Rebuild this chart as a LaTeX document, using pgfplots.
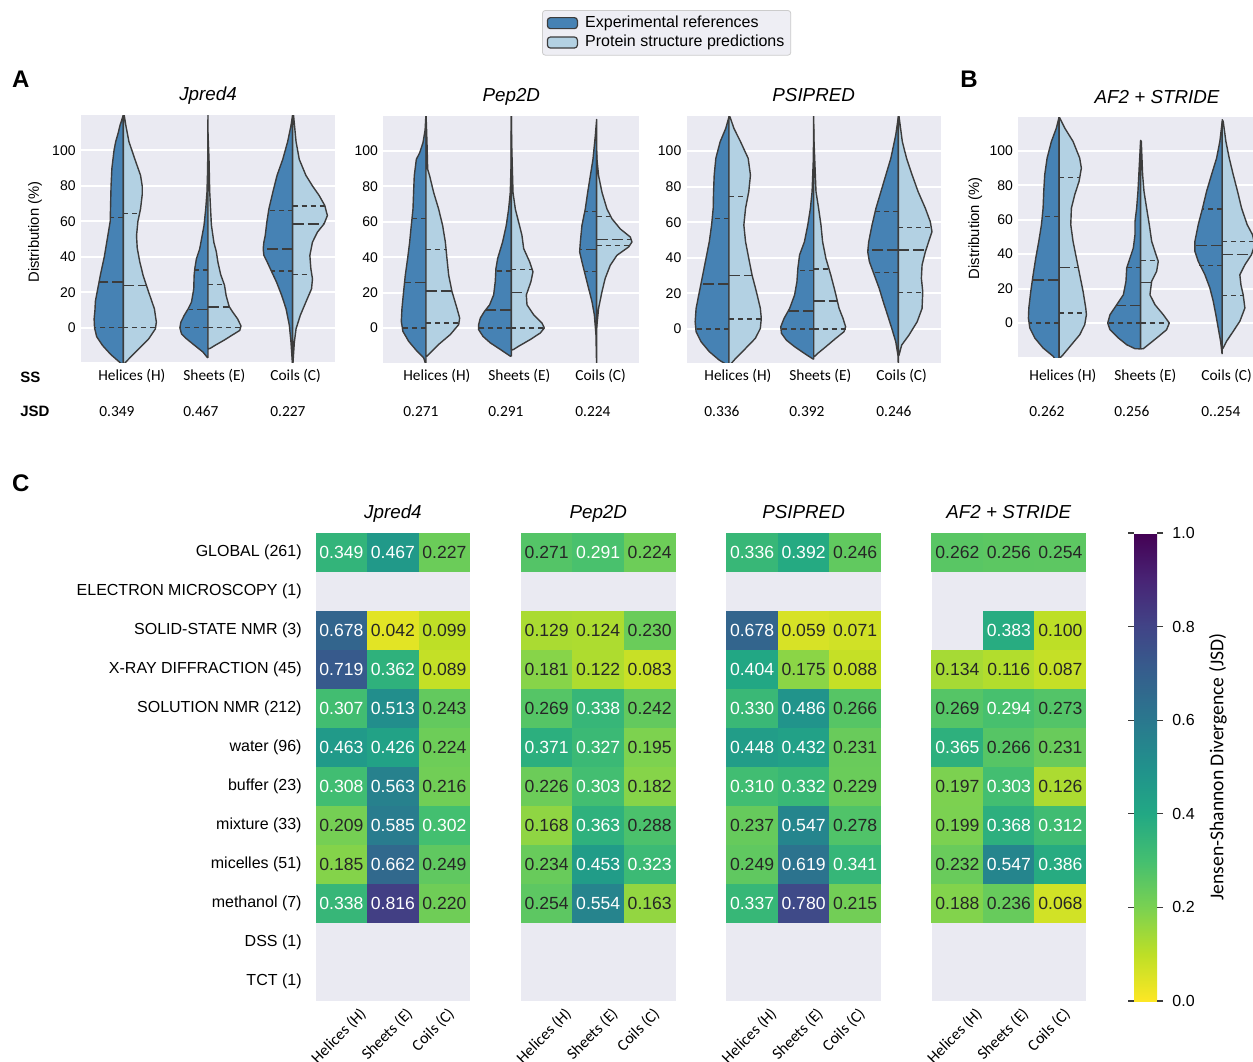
\documentclass[border=0pt]{standalone}
\usepackage{fontspec}
\setmainfont{Liberation Sans}
\newfontfamily\calib{Carlito}
\usepackage{pgfplots}
\pgfplotsset{compat=1.18}
\usepackage{pgfplotstable}
\definecolor{bg}{RGB}{234,234,242}
\definecolor{dkb}{RGB}{70,130,180}
\definecolor{ltb}{RGB}{179,209,227}
\definecolor{edge}{RGB}{60,60,60}
\definecolor{txtw}{RGB}{255,255,255}
\definecolor{txtb}{RGB}{38,38,38}
\definecolor{lgfill}{RGB}{238,238,244}
\definecolor{lgedge}{RGB}{204,204,204}
\pgfdeclareplotmark{cell}{\pgfpathrectangle{\pgfpoint{-12.95pt}{-9.85pt}}{\pgfpoint{25.9pt}{19.7pt}}\pgfusepathqfill}
\pgfplotsset{
  /pgf/number format/assume math mode=true,
  colormap={vir}{rgb255=(253,231,37) rgb255=(189,223,38) rgb255=(122,209,81) rgb255=(68,191,112) rgb255=(34,168,132) rgb255=(33,145,140) rgb255=(42,120,142) rgb255=(53,95,141) rgb255=(65,68,135) rgb255=(72,36,117) rgb255=(68,1,84)},
  vio/.style={scale only axis, anchor=north west, xmin=-0.5, xmax=2.5, xtick=\empty,
    ytick={0,20,40,60,80,100}, ymajorgrids, grid style={white, line width=1pt},
    axis background/.style={fill=bg}, axis line style={draw=none}, major tick length=0pt,
    yticklabel style={font=\fontsize{7}{8}\selectfont, inner sep=0pt, xshift=-2.5pt},
    every axis title/.style={at={(0.5,1)}, anchor=base, yshift=7.5pt, inner sep=0pt, font=\itshape\fontsize{9.4}{11}\selectfont}},
  dk/.style={fill=dkb, draw=edge, line width=0.7pt, line join=round},
  lt/.style={fill=ltb, draw=edge, line width=0.7pt, line join=round},
  med/.style={quiver={u=\thisrow{u},v=0}, draw=edge, line width=0.75pt, dash pattern=on 5.5pt off 2pt, no markers},
  qrt/.style={quiver={u=\thisrow{u},v=0}, draw=edge, line width=0.7pt, dash pattern=on 2.5pt off 2pt, no markers},
  hm/.style={scale only axis, anchor=north west, width=77.25pt, height=234pt,
    xmin=-0.5, xmax=2.5, ymin=-11.5, ymax=0.5,
    axis background/.style={fill=bg}, axis line style={draw=none}, major tick length=0pt,
    xtick={0.233,1.136,1.948}, xticklabels={Helices (H),Sheets (E),Coils (C)},
    xticklabel style={rotate=45, anchor=north east, inner sep=0pt, font=\calib\fontsize{8}{9.5}\selectfont, yshift=-3.6pt},
    ytick=\empty, colormap name=vir, point meta min=0, point meta max=1,
    every axis title/.style={at={(0.5,1)}, anchor=base, yshift=7.5pt, inner sep=0pt, font=\itshape\fontsize{9.4}{11}\selectfont}},
  cellplot/.style={scatter, only marks, mark=cell, point meta=\thisrow{v}},
  labplot/.style={draw=none, no markers, point meta=\thisrow{v},
    visualization depends on={\thisrow{tc}\as\tcol},
    nodes near coords={\ifdim\tcol pt>0.5pt\color{txtw}\else\color{txtb}\fi\pgfmathprintnumber[fixed,fixed zerofill,precision=3]{\pgfplotspointmeta}},
    every node near coord/.append style={anchor=center, inner sep=0pt, font=\fontsize{8.8}{10}\selectfont}},
}
% ---------------- heatmap data (row index as negative y; tc: 1 = white text) ----------------
\pgfplotstableread{
x y v tc
0 0 0.349 1
1 0 0.467 1
2 0 0.227 0
0 -2 0.678 1
1 -2 0.042 0
2 -2 0.099 0
0 -3 0.719 1
1 -3 0.362 1
2 -3 0.089 0
0 -4 0.307 1
1 -4 0.513 1
2 -4 0.243 0
0 -5 0.463 1
1 -5 0.426 1
2 -5 0.224 0
0 -6 0.308 1
1 -6 0.563 1
2 -6 0.216 0
0 -7 0.209 0
1 -7 0.585 1
2 -7 0.302 1
0 -8 0.185 0
1 -8 0.662 1
2 -8 0.249 0
0 -9 0.338 1
1 -9 0.816 1
2 -9 0.220 0
}\hJ
\pgfplotstableread{
x y v tc
0 0 0.271 0
1 0 0.291 1
2 0 0.224 0
0 -2 0.129 0
1 -2 0.124 0
2 -2 0.230 0
0 -3 0.181 0
1 -3 0.122 0
2 -3 0.083 0
0 -4 0.269 0
1 -4 0.338 1
2 -4 0.242 0
0 -5 0.371 1
1 -5 0.327 1
2 -5 0.195 0
0 -6 0.226 0
1 -6 0.303 1
2 -6 0.182 0
0 -7 0.168 0
1 -7 0.363 1
2 -7 0.288 0
0 -8 0.234 0
1 -8 0.453 1
2 -8 0.323 1
0 -9 0.254 0
1 -9 0.554 1
2 -9 0.163 0
}\hP
\pgfplotstableread{
x y v tc
0 0 0.336 1
1 0 0.392 1
2 0 0.246 0
0 -2 0.678 1
1 -2 0.059 0
2 -2 0.071 0
0 -3 0.404 1
1 -3 0.175 0
2 -3 0.088 0
0 -4 0.330 1
1 -4 0.486 1
2 -4 0.266 0
0 -5 0.448 1
1 -5 0.432 1
2 -5 0.231 0
0 -6 0.310 1
1 -6 0.332 1
2 -6 0.229 0
0 -7 0.237 0
1 -7 0.547 1
2 -7 0.278 0
0 -8 0.249 0
1 -8 0.619 1
2 -8 0.341 1
0 -9 0.337 1
1 -9 0.780 1
2 -9 0.215 0
}\hS
\pgfplotstableread{
x y v tc
0 0 0.262 0
1 0 0.256 0
2 0 0.254 0
1 -2 0.383 1
2 -2 0.100 0
0 -3 0.134 0
1 -3 0.116 0
2 -3 0.087 0
0 -4 0.269 0
1 -4 0.294 1
2 -4 0.273 0
0 -5 0.365 1
1 -5 0.266 0
2 -5 0.231 0
0 -6 0.197 0
1 -6 0.303 1
2 -6 0.126 0
0 -7 0.199 0
1 -7 0.368 1
2 -7 0.312 1
0 -8 0.232 0
1 -8 0.547 1
2 -8 0.386 1
0 -9 0.188 0
1 -9 0.236 0
2 -9 0.068 0
}\hA
\begin{document}
\begin{tikzpicture}
\clip (0pt,0pt) rectangle (626.5pt,-530.5pt);
\fill[white] (0pt,0pt) rectangle (626.5pt,-530.5pt);
% ================= Jpred4 violins =================
\begin{axis}[vio, at={(40.5pt,-57.5pt)}, width=127pt, height=123.5pt, ymin=-19.3, ymax=120,
  title={Jpred4},
  every axis y label/.style={at={(axis description cs:-0.181,0.526)}, rotate=90, anchor=center, font=\fontsize{7.4}{8.5}\selectfont},
  ylabel={Distribution (\%)},
  legend style={at={(1.815,1.425)}, anchor=north west, draw=lgedge, fill=lgfill, rounded corners=1.5pt,
    font=\fontsize{8}{9.5}\selectfont, inner xsep=2.2pt, inner ysep=1.5pt,
    nodes={inner sep=1pt, text height=6pt, text depth=1.7pt},
    /tikz/every odd column/.append style={column sep=2.6pt}},
  legend cell align=left,
  legend image code/.code={\draw[#1] (0pt,-2.75pt) rectangle (15pt,2.75pt);}]
\addlegendimage{fill=dkb, draw=edge, line width=0.6pt}
\addlegendentry{Experimental references}
\addlegendimage{fill=ltb, draw=edge, line width=0.6pt}
\addlegendentry{Protein structure predictions}
\addplot[dk] table[x expr=0-\thisrow{w}, y=v, row sep=\\]{v w\\ -25 0\\ -20 .03\\ -15 .15\\ -10 .245\\ -5 .315\\ 0 .34\\ 5 .345\\ 10 .335\\ 15 .33\\ 20 .31\\ 30 .27\\ 40 .225\\ 50 .19\\ 60 .155\\ 70 .15\\ 80 .145\\ 90 .135\\ 100 .11\\ 105 .09\\ 110 .06\\ 114 .04\\ 120 0\\ -25 0\\};
\addplot[lt] table[x expr=0+\thisrow{w}, y=v, row sep=\\]{v w\\ -22 0\\ -19.4 .027\\ -17.5 .066\\ -11.8 .184\\ -6.2 .30\\ -0.6 .379\\ 3.2 .39\\ 10.7 .367\\ 20 .30\\ 29.5 .234\\ 37 .195\\ 45 .164\\ 52 .156\\ 60 .172\\ 67 .203\\ 75 .223\\ 80 .223\\ 86 .203\\ 95 .137\\ 105 .066\\ 114 .03\\ 120 .01\\ 122 0\\ -22 0\\};
\addplot[dk] table[x expr=1-\thisrow{w}, y=v, row sep=\\]{v w\\ -17 0\\ -16.5 .012\\ -13.7 .059\\ -10 .156\\ -6.2 .254\\ -3.4 .313\\ 0 .332\\ 3.2 .32\\ 7 .281\\ 10.7 .234\\ 14.5 .195\\ 22 .168\\ 29.5 .164\\ 33.3 .156\\ 38.9 .137\\ 44.5 .098\\ 57.7 .047\\ 67 .027\\ 76.5 .012\\ 90 .004\\ 122 0\\ -17 0\\};
\addplot[lt] table[x expr=1+\thisrow{w}, y=v, row sep=\\]{v w\\ -12 0\\ -11.5 .03\\ -10 .08\\ -7 .19\\ -4 .29\\ -1.5 .375\\ 1 .39\\ 5 .35\\ 9 .29\\ 12 .25\\ 18 .215\\ 24 .195\\ 30 .15\\ 37 .117\\ 43 .098\\ 48 .07\\ 58 .04\\ 77 .02\\ 95 .012\\ 110 0\\ -12 0\\};
\addplot[dk] table[x expr=2-\thisrow{w}, y=v, row sep=\\]{v w\\ -22 0\\ -8 .02\\ 1.3 .039\\ 10.7 .078\\ 18.2 .129\\ 25.8 .191\\ 31.4 .246\\ 37 .30\\ 40.8 .34\\ 44.5 .348\\ 48.3 .34\\ 52 .324\\ 59.6 .305\\ 67 .281\\ 76.5 .234\\ 86 .184\\ 95 .117\\ 105 .059\\ 114 .02\\ 120 0\\ -22 0\\};
\addplot[lt] table[x expr=2+\thisrow{w}, y=v, row sep=\\]{v w\\ -22 0\\ -18.8 .005\\ -8 .02\\ -0.6 .04\\ 7 .09\\ 14.5 .156\\ 22 .223\\ 27.6 .234\\ 33.3 .215\\ 40.8 .203\\ 48.3 .234\\ 54 .293\\ 58.6 .371\\ 63.3 .41\\ 69 .379\\ 74.6 .313\\ 80 .234\\ 86 .156\\ 95 .078\\ 105 .04\\ 120 .01\\ 121 0\\ -22 0\\};
\addplot[med] table[row sep=\\]{x y u\\ 0 25.8 -0.29\\ 0 23.9 0.27\\ 1 10.2 -0.23\\ 1 11.7 0.25\\ 2 44.5 -0.348\\ 2 58.5 0.37\\};
\addplot[qrt] table[row sep=\\]{x y u\\ 0 0 -0.34\\ 0 62.2 -0.155\\ 0 0 0.385\\ 0 64.5 0.19\\ 1 0 -0.332\\ 1 32.7 -0.156\\ 1 0 0.385\\ 1 24.4 0.195\\ 2 32 -0.25\\ 2 66.2 -0.28\\ 2 29.9 0.225\\ 2 68.6 0.38\\};
\end{axis}
% ================= Pep2D violins =================
\begin{axis}[vio, at={(191.65pt,-58pt)}, width=128pt, height=123.35pt, ymin=-19.6, ymax=119.8, title={Pep2D}]
\addplot[dk] table[x expr=0-\thisrow{w}, y=v, row sep=\\]{v w\\ -21 0\\ -16.8 .027\\ -13.1 .105\\ -7.5 .203\\ -1.9 .27\\ 3.7 .289\\ 11.2 .281\\ 20.6 .262\\ 29.9 .242\\ 39.3 .215\\ 48.6 .191\\ 58 .172\\ 67.3 .152\\ 76.6 .145\\ 86 .137\\ 95.3 .113\\ 99 .074\\ 104.7 .035\\ 112 .01\\ 121 0\\ -21 0\\};
\addplot[lt] table[x expr=0+\thisrow{w}, y=v, row sep=\\]{v w\\ -16 0\\ -15.9 .012\\ -14 .05\\ -9.3 .148\\ -3.7 .285\\ 1.9 .383\\ 5.6 .395\\ 11.2 .363\\ 20.6 .305\\ 29.9 .266\\ 39.3 .246\\ 48.6 .227\\ 58 .195\\ 67.3 .148\\ 76.6 .09\\ 86 .043\\ 89.7 .02\\ 104.7 .012\\ 115 .005\\ 121 0\\ -16 0\\};
\addplot[dk] table[x expr=1-\thisrow{w}, y=v, row sep=\\]{v w\\ -16 0\\ -15.9 .012\\ -12.1 .129\\ -8.4 .246\\ -4.7 .332\\ -0.9 .383\\ 1.9 .383\\ 5.6 .363\\ 9.3 .316\\ 13.1 .254\\ 18.7 .207\\ 26.2 .188\\ 33.6 .18\\ 39.3 .16\\ 48.6 .102\\ 58 .059\\ 67.3 .031\\ 76.6 .012\\ 90 .004\\ 121 0\\ -16 0\\};
\addplot[lt] table[x expr=1+\thisrow{w}, y=v, row sep=\\]{v w\\ -12.5 0\\ -12.1 .027\\ -10.3 .086\\ -6.5 .223\\ -2.8 .34\\ 0 .387\\ 2.8 .36\\ 7.5 .262\\ 13.1 .184\\ 18.7 .176\\ 26.2 .23\\ 31.8 .254\\ 37.4 .215\\ 44.9 .145\\ 52.3 .125\\ 59.8 .086\\ 67.3 .047\\ 76.6 .02\\ 104.7 .004\\ 121 0\\ -12.5 0\\};
\addplot[dk] table[x expr=2-\thisrow{w}, y=v, row sep=\\]{v w\\ -22 0\\ -3.7 .008\\ 7.5 .027\\ 15 .055\\ 22.4 .094\\ 29.9 .133\\ 37.4 .172\\ 43 .199\\ 48.6 .191\\ 58 .172\\ 67.3 .133\\ 76.6 .105\\ 86 .074\\ 95.3 .043\\ 108.4 .016\\ 117.8 0\\ -22 0\\};
\addplot[lt] table[x expr=2+\thisrow{w}, y=v, row sep=\\]{v w\\ 0 0\\ 1.9 .004\\ 11.2 .023\\ 20.6 .063\\ 28 .10\\ 35.5 .16\\ 41.1 .238\\ 45.8 .375\\ 48.6 .414\\ 51.4 .395\\ 56 .277\\ 61.7 .18\\ 67.3 .121\\ 76.6 .063\\ 86 .023\\ 95.3 .004\\ 100 0\\ 0 0\\};
\addplot[med] table[row sep=\\]{x y u\\ 0 25.6 -0.25\\ 0 20.9 0.30\\ 1 10.3 -0.30\\ 1 20 0.175\\ 2 44.3 -0.199\\ 2 49.9 0.41\\};
\addplot[qrt] table[row sep=\\]{x y u\\ 0 0 -0.285\\ 0 62 -0.16\\ 0 2.8 0.39\\ 0 44.3 0.235\\ 1 0 -0.383\\ 1 32.3 -0.18\\ 1 0 0.387\\ 1 33.1 0.25\\ 2 31.8 -0.14\\ 2 65.8 -0.135\\ 2 46.7 0.39\\ 2 63 0.16\\};
\end{axis}
% ================= PSIPRED violins =================
\begin{axis}[vio, at={(343.35pt,-58.15pt)}, width=127pt, height=123.2pt, ymin=-18.9, ymax=119.5, title={PSIPRED}]
\addplot[dk] table[x expr=0-\thisrow{w}, y=v, row sep=\\]{v w\\ -21 0\\ -20.2 .02\\ -17.4 .117\\ -12.7 .233\\ -7.1 .331\\ -1.5 .389\\ 4.1 .40\\ 11.6 .389\\ 21 .35\\ 30.3 .311\\ 39.7 .272\\ 49.1 .233\\ 58.4 .206\\ 67.8 .187\\ 77.2 .183\\ 86.5 .175\\ 95.9 .156\\ 105.2 .105\\ 112.7 .039\\ 119.3 0\\ -21 0\\};
\addplot[lt] table[x expr=0+\thisrow{w}, y=v, row sep=\\]{v w\\ -21 0\\ -20.2 .01\\ -16.5 .078\\ -10.9 .195\\ -5.2 .311\\ .4 .37\\ 6 .381\\ 11.6 .37\\ 21 .323\\ 30.3 .272\\ 39.7 .233\\ 49.1 .195\\ 58.4 .175\\ 67.8 .195\\ 77.2 .233\\ 86.5 .253\\ 95.9 .226\\ 105.2 .136\\ 112.7 .058\\ 119.3 .01\\ 120 0\\ -21 0\\};
\addplot[dk] table[x expr=1-\thisrow{w}, y=v, row sep=\\]{v w\\ -17 0\\ -16.5 .019\\ -13.7 .109\\ -9.9 .226\\ -6.2 .323\\ -2.4 .381\\ 1.3 .389\\ 6 .35\\ 11.6 .284\\ 19.1 .226\\ 26.6 .198\\ 34.1 .187\\ 41.6 .167\\ 49.1 .109\\ 58.4 .07\\ 67.8 .039\\ 77.2 .019\\ 95.9 .004\\ 121 0\\ -17 0\\};
\addplot[lt] table[x expr=1+\thisrow{w}, y=v, row sep=\\]{v w\\ -15.5 0\\ -15 .02\\ -13.7 .047\\ -9.9 .144\\ -5.2 .261\\ -1.5 .358\\ 1.3 .377\\ 6 .346\\ 11.6 .30\\ 21 .253\\ 30.3 .202\\ 39.7 .144\\ 49.1 .105\\ 58.4 .086\\ 67.8 .058\\ 77.2 .027\\ 105.2 .004\\ 115 0\\ -15.5 0\\};
\addplot[dk] table[x expr=2-\thisrow{w}, y=v, row sep=\\]{v w\\ -21 0\\ -14.6 .005\\ -7.1 .031\\ .4 .078\\ 7.9 .128\\ 15.4 .179\\ 22.8 .226\\ 30.3 .284\\ 37.8 .342\\ 43.4 .362\\ 49.1 .35\\ 58.4 .311\\ 67.8 .265\\ 77.2 .206\\ 86.5 .148\\ 95.9 .089\\ 109 .031\\ 119.3 0\\ -21 0\\};
\addplot[lt] table[x expr=2+\thisrow{w}, y=v, row sep=\\]{v w\\ -15 0\\ -14.6 .008\\ -9 .039\\ -3.4 .125\\ 4.1 .222\\ 11.6 .28\\ 21 .288\\ 28.5 .272\\ 36 .28\\ 43.4 .319\\ 49.1 .358\\ 54.7 .397\\ 60.3 .377\\ 67.8 .319\\ 77.2 .233\\ 86.5 .163\\ 95.9 .097\\ 105.2 .047\\ 119.3 .008\\ 120 0\\ -15 0\\};
\addplot[med] table[row sep=\\]{x y u\\ 0 25.3 -0.33\\ 0 30 0.27\\ 1 10.1 -0.29\\ 1 15.7 0.28\\ 2 44.4 -0.36\\ 2 44.4 0.32\\};
\addplot[qrt] table[row sep=\\]{x y u\\ 0 0 -0.39\\ 0 62 -0.20\\ 0 5.6 0.38\\ 0 74.3 0.22\\ 1 0 -0.389\\ 1 32.8 -0.19\\ 1 0 0.38\\ 1 33.7 0.19\\ 2 31.6 -0.29\\ 2 65.9 -0.27\\ 2 20.6 0.29\\ 2 56.9 0.39\\};
\end{axis}
% ================= AF2 + STRIDE violins =================
\begin{axis}[vio, at={(509.15pt,-58.65pt)}, width=122.35pt, height=120pt, ymin=-19.9, ymax=119.4,
  title={AF2 + STRIDE},
  every axis title/.style={at={(0.567,1)}, anchor=base, yshift=7pt, inner sep=0pt, font=\itshape\fontsize{9.4}{11}\selectfont},
  every axis y label/.style={at={(axis description cs:-0.1755,0.537)}, rotate=90, anchor=center, font=\fontsize{7.4}{8.5}\selectfont},
  ylabel={Distribution (\%)}]
\addplot[dk] table[x expr=0-\thisrow{w}, y=v, row sep=\\]{v w\\ -24 0\\ -19.3 .073\\ -14.5 .196\\ -8.7 .298\\ -2.9 .359\\ 2.9 .376\\ 8.7 .371\\ 18.4 .347\\ 28 .318\\ 37.7 .286\\ 47.4 .249\\ 57.1 .216\\ 66.7 .196\\ 76.4 .188\\ 86.1 .176\\ 95.7 .147\\ 105.4 .094\\ 113.2 .033\\ 119.5 0\\ -24 0\\};
\addplot[lt] table[x expr=0+\thisrow{w}, y=v, row sep=\\]{v w\\ -22 0\\ -20.3 .008\\ -18.4 .049\\ -12.6 .151\\ -6.8 .253\\ -1 .314\\ 4.8 .335\\ 8.7 .327\\ 18.4 .294\\ 28 .253\\ 37.7 .212\\ 47.4 .171\\ 57.1 .143\\ 66.7 .151\\ 74.5 .192\\ 82.2 .245\\ 89.9 .273\\ 95.7 .253\\ 105.4 .171\\ 113.2 .069\\ 119 .008\\ 120 0\\ -22 0\\};
\addplot[dk] table[x expr=1-\thisrow{w}, y=v, row sep=\\]{v w\\ -15 0\\ -14.9 .069\\ -12.6 .171\\ -8.7 .273\\ -3.9 .376\\ 0 .404\\ 4.8 .376\\ 10.6 .294\\ 16.4 .212\\ 24.2 .18\\ 31.9 .171\\ 37.7 .131\\ 43.5 .09\\ 51.3 .069\\ 59 .069\\ 66.7 .049\\ 76.4 .033\\ 95.7 .012\\ 105.4 0\\ -15 0\\};
\addplot[lt] table[x expr=1+\thisrow{w}, y=v, row sep=\\]{v w\\ -15 0\\ -14.9 .033\\ -12.6 .094\\ -8.7 .196\\ -3.9 .318\\ 0 .351\\ 4.8 .278\\ 10.6 .176\\ 16.4 .114\\ 24.2 .135\\ 30 .196\\ 35.8 .216\\ 39.7 .188\\ 47.4 .135\\ 57.1 .106\\ 66.7 .073\\ 76.4 .041\\ 86.1 .024\\ 105.4 .008\\ 106 0\\ -15 0\\};
\addplot[dk] table[x expr=2-\thisrow{w}, y=v, row sep=\\]{v w\\ -18 0\\ -17.4 .003\\ -10.6 .02\\ -2.9 .049\\ 4.8 .078\\ 12.6 .11\\ 20.3 .151\\ 28 .212\\ 35.8 .294\\ 41.6 .335\\ 47.4 .335\\ 57.1 .294\\ 66.7 .241\\ 76.4 .192\\ 86.1 .131\\ 95.7 .069\\ 105.4 .029\\ 117 0\\ -18 0\\};
\addplot[lt] table[x expr=2+\thisrow{w}, y=v, row sep=\\]{v w\\ -15 0\\ -14.5 .012\\ -10.6 .053\\ -4.8 .135\\ 1 .216\\ 8.7 .278\\ 16.4 .257\\ 22 .23\\ 28 .216\\ 33.8 .278\\ 39.7 .359\\ 45.5 .40\\ 51.3 .371\\ 57.1 .306\\ 66.7 .237\\ 76.4 .188\\ 86.1 .135\\ 95.7 .086\\ 105.4 .045\\ 117 .012\\ 118 0\\ -15 0\\};
\addplot[med] table[row sep=\\]{x y u\\ 0 25.1 -0.33\\ 0 32.3 0.24\\ 1 10.1 -0.29\\ 1 23.6 0.135\\ 2 44.9 -0.335\\ 2 39.7 0.36\\};
\addplot[qrt] table[row sep=\\]{x y u\\ 0 0 -0.37\\ 0 61.9 -0.21\\ 0 5.8 0.33\\ 0 84.5 0.25\\ 1 0 -0.404\\ 1 32.3 -0.17\\ 1 0 0.35\\ 1 36.2 0.21\\ 2 33.5 -0.28\\ 2 66.2 -0.24\\ 2 15.9 0.26\\ 2 47.4 0.38\\};
\end{axis}
% ================= texts under the violins =================
\node[anchor=base west, inner sep=0pt, font=\bfseries\fontsize{12}{14}\selectfont] at (5.85pt,-43.5pt) {A};
\node[anchor=base west, inner sep=0pt, font=\bfseries\fontsize{12}{14}\selectfont] at (480pt,-43.5pt) {B};
\node[anchor=base west, inner sep=0pt, font=\bfseries\fontsize{12}{14}\selectfont] at (5.85pt,-245.5pt) {C};
\node[anchor=base west, inner sep=0pt, font=\bfseries\fontsize{7.5}{9}\selectfont] at (10pt,-191pt) {SS};
\node[anchor=base west, inner sep=0pt, font=\bfseries\fontsize{7.5}{9}\selectfont] at (10pt,-208pt) {JSD};
\foreach \xx/\lab in {49/Helices (H),91.5/Sheets (E),135/Coils (C),201.5/Helices (H),244/Sheets (E),287.5/Coils (C),352/Helices (H),394.5/Sheets (E),438/Coils (C),514.5/Helices (H),557/Sheets (E),600.5/Coils (C)}
  \node[anchor=base west, inner sep=0pt, font=\calib\fontsize{7.7}{9}\selectfont] at ({\xx*1pt},-190pt) {\lab};
\foreach \xx/\lab in {49.5/0.349,91.5/0.467,135/0.227,201.5/0.271,244/0.291,287.5/0.224,352/0.336,394.5/0.392,438/0.246,514.5/0.262,557/0.256,600.5/0..254}
  \node[anchor=base west, inner sep=0pt, font=\calib\fontsize{7.7}{9}\selectfont] at ({\xx*1pt},-208pt) {\lab};
% ================= heatmaps =================
\begin{axis}[hm, at={(157.85pt,-266.5pt)}, title={Jpred4},
  ytick={0,-1,-2,-3,-4,-5,-6,-7,-8,-9,-10,-11},
  yticklabels={GLOBAL (261),ELECTRON MICROSCOPY (1),SOLID-STATE NMR (3),X-RAY DIFFRACTION (45),SOLUTION NMR (212),water (96),buffer (23),mixture (33),micelles (51),methanol (7),DSS (1),TCT (1)},
  yticklabel style={font=\fontsize{8}{9}\selectfont, inner sep=0pt, xshift=-6.85pt}]
\addplot[cellplot] table[x=x, y=y]{\hJ};
\addplot[labplot] table[x=x, y=y]{\hJ};
\end{axis}
\begin{axis}[hm, at={(260.5pt,-266.5pt)}, title={Pep2D}]
\addplot[cellplot] table[x=x, y=y]{\hP};
\addplot[labplot] table[x=x, y=y]{\hP};
\end{axis}
\begin{axis}[hm, at={(363.15pt,-266.5pt)}, title={PSIPRED}]
\addplot[cellplot] table[x=x, y=y]{\hS};
\addplot[labplot] table[x=x, y=y]{\hS};
\end{axis}
\begin{axis}[hm, at={(465.8pt,-266.5pt)}, title={AF2 + STRIDE},
  colorbar,
  colorbar shift/.style={xshift=23.95pt},
  colorbar style={at={(parent axis.north east)}, anchor=north west, scale only axis,
    width=11.5pt, height=234pt, ytick={0,0.2,0.4,0.6,0.8,1},
    yticklabel={\pgfmathprintnumber[fixed,fixed zerofill,precision=1]{\tick}},
    yticklabel style={font=\fontsize{8}{9}\selectfont, inner sep=0pt, anchor=west, xshift=4.5pt},
    axis line style={draw=none}, major tick length=3pt, tick align=outside,
    ytick style={draw=edge, line width=0.6pt},
    ylabel={Jensen-Shannon Divergence (JSD)},
    every axis y label/.style={at={(axis description cs:3.65,0.5)}, rotate=90, anchor=center, font=\calib\fontsize{9.8}{11}\selectfont}}]
\addplot[cellplot] table[x=x, y=y]{\hA};
\addplot[labplot] table[x=x, y=y]{\hA};
\end{axis}
\end{tikzpicture}
\end{document}
